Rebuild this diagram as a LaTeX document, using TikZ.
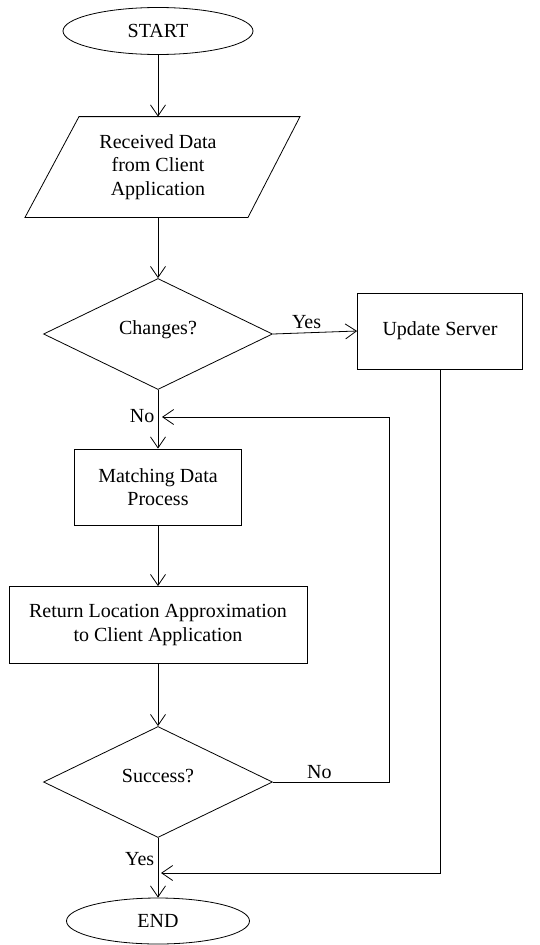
\documentclass[tikz,border=0pt]{standalone}
\usepackage{fontspec}
\setmainfont{Liberation Serif}
\usetikzlibrary{shapes.geometric, arrows.meta, calc}

\begin{document}
\begin{tikzpicture}[x=1pt, y=-1pt, line width=0.8pt,
  font=\fontsize{20}{23.5}\selectfont,
  terminal/.style={draw, ellipse, inner sep=0pt, minimum height=47pt},
  proc/.style={draw, rectangle, align=center, minimum height=76pt},
  decision/.style={draw, diamond, inner sep=0pt, minimum width=229pt,
    minimum height=111pt, text height=13pt, text depth=13pt},
  conn/.style={-{Straight Barb[length=11pt, width=15pt]}}]

\useasboundingbox (0,0) rectangle (540,945);

% Main column of the chart
\node[terminal, minimum width=190pt] (start) at (158,31) {START};
\node[align=center, minimum height=100pt] (recv) at (158,167)
  {Received Data\\from Client\\Application};
\node[decision] (changes) at (158,334) {Changes?};
\node[proc, minimum width=167pt] (match) at (158,487) {Matching Data\\Process};
\node[proc, minimum width=298pt, minimum height=77pt] (ret) at (158,625)
  {Return Location Approximation\\to Client Application};
\node[decision] (success) at (158,782) {Success?};
\node[terminal, minimum width=183pt, minimum height=46pt] (stop) at (158,921) {END};

% Side box
\node[proc, minimum width=165pt] (update) at (440,331) {Update Server};

% Input shape around the received data
\draw ($(recv.north)+(-79,0)$) -- ($(recv.north)+(142,0)$)
  -- ($(recv.south)+(90,0)$) -- ($(recv.south)+(-133,0)$) -- cycle;

% Points where the returning lines meet the column
\coordinate (join1) at (162,417);
\coordinate (loop) at (389,417);
\coordinate (join2) at (161,873);

% Connectors
\draw[conn] (start.south) -- (recv.north);
\draw[conn] (recv.south) -- (changes.north);
\draw[conn] (changes.east) -- node[above, pos=0.4] {Yes} (update.west);
\draw[conn] (changes.south) -- node[left, pos=0.45] {No} (match.north);
\draw[conn] (match.south) -- (ret.north);
\draw[conn] (ret.south) -- (success.north);
\draw[conn] (success.east) -| node[above, pos=0.2] {No} (loop) -- (join1);
\draw[conn] (success.south) -- node[left, pos=0.35] {Yes} (stop.north);
\draw[conn] (update.south) |- (join2);

\end{tikzpicture}
\end{document}
